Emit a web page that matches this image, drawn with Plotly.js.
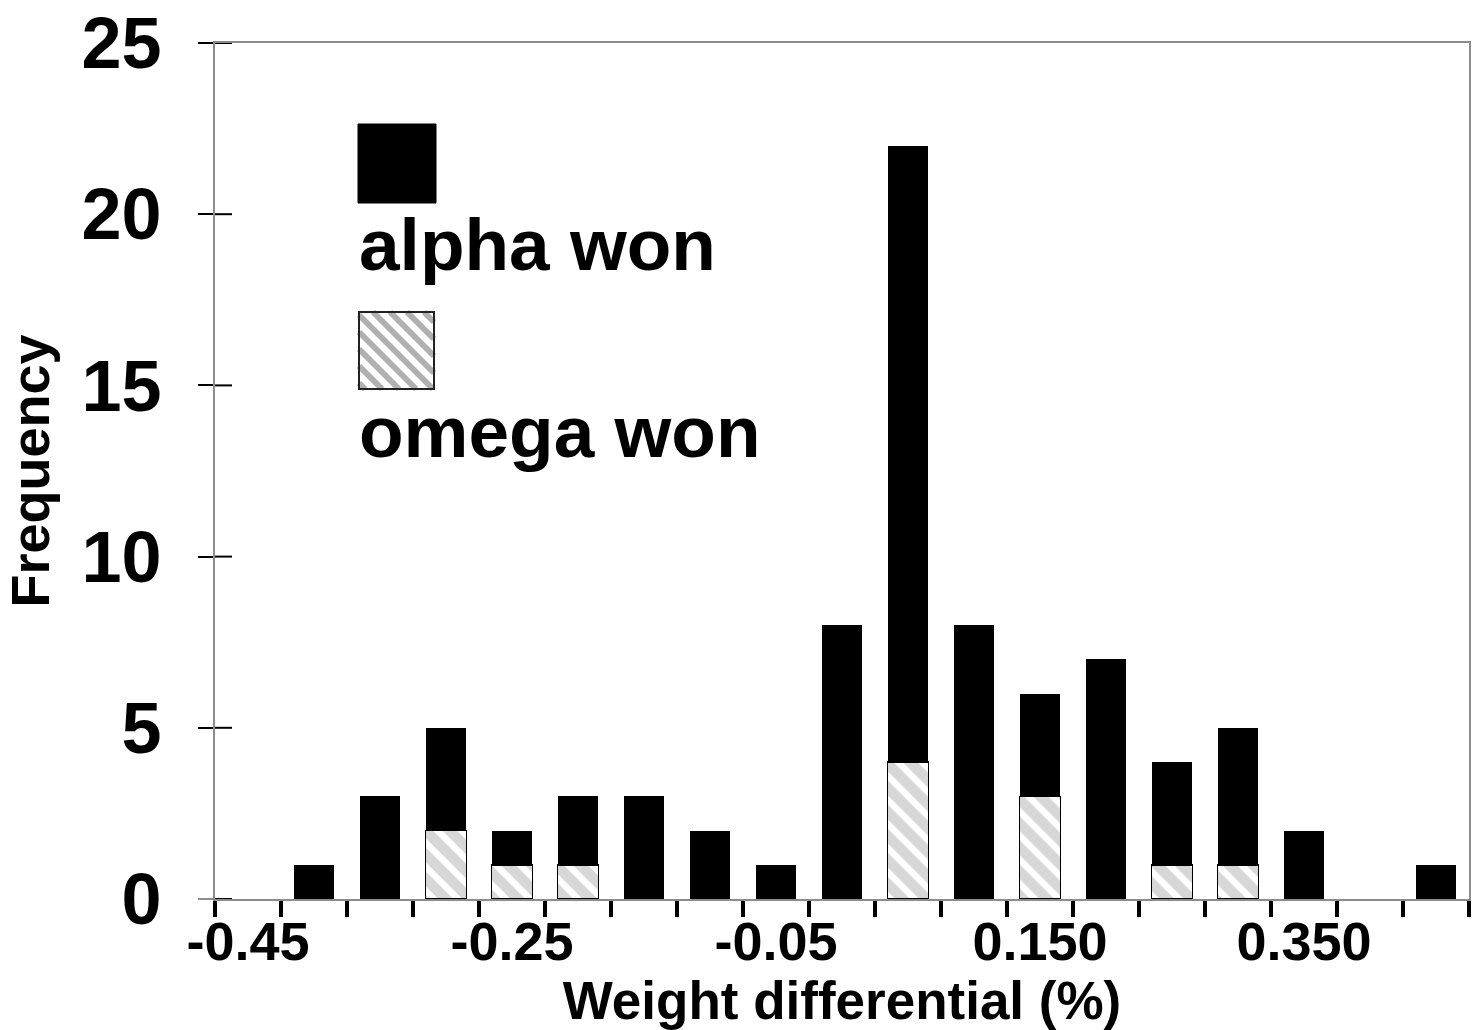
<!DOCTYPE html>
<html><head><meta charset="utf-8">
<script src="https://cdn.plot.ly/plotly-3.0.1.min.js"></script>
<style>html,body{margin:0;padding:0;background:#fff}#chart{width:1481px;height:1030px}</style>
</head><body><div id="chart"></div>
<script>
// ---- data ----
const binCenters = [-0.45,-0.40,-0.35,-0.30,-0.25,-0.20,-0.15,-0.10,-0.05,0.00,0.05,0.10,0.15,0.20,0.25,0.30,0.35,0.40,0.45];
const alphaWon   = [0,1,3,3,1,2,3,2,1,8,18,8,3,7,3,4,2,0,1];
const omegaWon   = [0,0,0,2,1,1,0,0,0,0,4,0,3,0,1,1,0,0,0];
const xTickValues = [-0.45,-0.25,-0.05,0.15,0.35];
const xTickLabels = ["-0.45","-0.25","-0.05","0.150","0.350"];
const yTickValues = [0,5,10,15,20,25];
const seriesNames = ["alpha won","omega won"];
const xTitle = "Weight differential (%)";
const yTitle = "Frequency";

// ---- layout constants ----
const W = 1481, H = 1030;
const M = {l:215, r:12, t:43, b:131};
const PW = W - M.l - M.r, PH = H - M.t - M.b;
const px = p => (p - M.l) / PW;
const py = p => (H - M.b - p) / PH;
const FONT = "Liberation Sans, Arial, Helvetica, sans-serif";
const HATCH = "#b0b0b0";
const AXC = "#8c8c8c";
const HSTEP = 17;

const traces = [
  {
    type:'bar', name: seriesNames[1], x: binCenters, y: omegaWon,
    marker:{color:'#ffffff', line:{color:'#000', width: omegaWon.map(v => v > 0 ? 1.5 : 0)},
      pattern:{shape:'\\', size:HSTEP, solidity:0.62, fgcolor:HATCH, bgcolor:'#ffffff', fillmode:'overlay'}},
    showlegend:false, hoverinfo:'x+y'
  },
  {
    type:'bar', name: seriesNames[0], x: binCenters, y: alphaWon,
    marker:{color:'#000000', line:{color:'#000', width:0}},
    showlegend:false, hoverinfo:'x+y'
  }
];

const shapes = [];
// inside half of the crossing y ticks
yTickValues.forEach(v => shapes.push({type:'line', xref:'paper', yref:'y', x0:0, x1:px(232), y0:v, y1:v,
  line:{color:'#000', width:2}}));
// legend swatches (layout decoration)
shapes.push({type:'rect', xref:'paper', yref:'paper', x0:px(358), x1:px(436), y0:py(203), y1:py(124),
  fillcolor:'#000', line:{color:'#000', width:1}});
const sq = {x0:359, x1:434, y0:312, y1:389};
let path = '';
for (let c = sq.x0 - sq.y1 + 6; c < sq.x1 - sq.y0; c += HSTEP) {
  const ys = Math.max(sq.y0, sq.x0 - c), ye = Math.min(sq.y1, sq.x1 - c);
  if (ye > ys) path += `M${px(ys + c)},${py(ys)} L${px(ye + c)},${py(ye)} `;
}
shapes.push({type:'rect', xref:'paper', yref:'paper', x0:px(sq.x0), x1:px(sq.x1), y0:py(sq.y1), y1:py(sq.y0),
  fillcolor:'#fff', line:{width:0}});
shapes.push({type:'path', xref:'paper', yref:'paper', path:path, line:{color:HATCH, width:6}});
shapes.push({type:'rect', xref:'paper', yref:'paper', x0:px(sq.x0), x1:px(sq.x1), y0:py(sq.y1), y1:py(sq.y0),
  fillcolor:'rgba(0,0,0,0)', line:{color:'#222', width:2}});
// x axis line stub left of y axis
shapes.push({type:'line', xref:'paper', yref:'paper', x0:px(198), x1:px(215), y0:0, y1:0, line:{color:AXC, width:2}});

const annotations = [
  {xref:'paper', yref:'paper', x:px(357), y:py(244), xanchor:'left', yanchor:'middle', showarrow:false,
   text: seriesNames[0], font:{family:FONT, size:73, color:'#000', weight:'bold'}},
  {xref:'paper', yref:'paper', x:px(357), y:py(431), xanchor:'left', yanchor:'middle', showarrow:false,
   text: seriesNames[1], font:{family:FONT, size:73, color:'#000', weight:'bold'}}
];

const layout = {
  width:W, height:H, margin:M, paper_bgcolor:'#fff', plot_bgcolor:'#fff',
  barmode:'stack', bargap:0.38, showlegend:false,
  font:{family:FONT, color:'#000'},
  xaxis:{
    type:'linear', range:[-0.475, 0.475], autorange:false,
    tickmode:'array', tickvals:xTickValues, ticktext:xTickLabels, ticks:'',
    minor:{tick0:-0.475, dtick:0.05, ticks:'outside', ticklen:16, tickwidth:4, tickcolor:'#000', showgrid:false},
    tickfont:{family:FONT, size:54, weight:'bold'},
    ticklabelstandoff:-6,
    showline:true, linecolor:AXC, linewidth:2, mirror:true, showgrid:false, zeroline:false,
    automargin:false,
    title:{text:xTitle, font:{family:FONT, size:53, weight:'bold'}, standoff:10}
  },
  yaxis:{
    range:[0,25], autorange:false, tickmode:'array', tickvals:yTickValues,
    ticks:'outside', ticklen:15, tickwidth:2, tickcolor:'#000',
    tickfont:{family:FONT, size:72, weight:'bold'},
    ticklabelstandoff:22,
    showline:true, linecolor:AXC, linewidth:2, mirror:true, showgrid:false, zeroline:false,
    automargin:false,
    title:{text:yTitle, font:{family:FONT, size:54, weight:'bold'}, standoff:18}
  },
  shapes:shapes, annotations:annotations
};

Plotly.newPlot('chart', traces, layout, {staticPlot:true, displayModeBar:false});
</script>
</body></html>
